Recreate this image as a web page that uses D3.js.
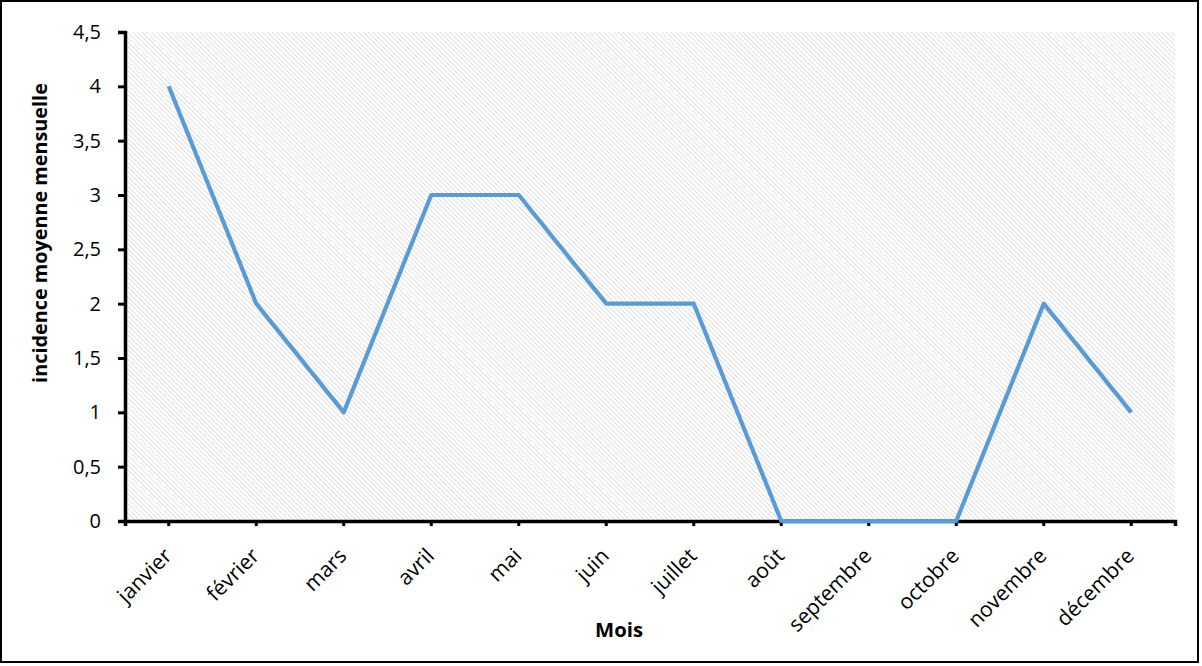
<!DOCTYPE html>
<html><head><meta charset="utf-8">
<script src="https://cdn.jsdelivr.net/npm/d3@7"></script>
<style>
html,body{margin:0;padding:0;background:#fff;}
svg{display:block;font-family:"Open Sans",sans-serif;}
</style></head>
<body>
<svg id="chart" width="1202" height="666"></svg>
<script>
const months = ["janvier","février","mars","avril","mai","juin","juillet","août","septembre","octobre","novembre","décembre"];
const incidence = [4,2,1,3,3,2,2,0,0,0,2,1];
const yTicks = [0,0.5,1,1.5,2,2.5,3,3.5,4,4.5];
const yTitle = "incidence moyenne mensuelle";
const xTitle = "Mois";

const FONT = "'Open Sans',sans-serif";
const svg = d3.select("#chart");
const m = {left:125, right:1175, top:32, bottom:521};

// fit a font size so that a text reaches a target width
function fitSize(str, target, weight) {
  const t = svg.append("text").attr("font-family",FONT).attr("font-size",20)
    .attr("font-weight",weight||"normal").text(str);
  const w = t.node().getComputedTextLength();
  t.remove();
  return 20*target/w;
}

const defs = svg.append("defs");
const P = 3.4;
const pat = defs.append("pattern").attr("id","hatch").attr("patternUnits","userSpaceOnUse")
  .attr("width",P).attr("height",P).attr("patternTransform","rotate(45)");
pat.append("rect").attr("width",P).attr("height",P).attr("fill","#fff");
pat.append("line").attr("x1",0).attr("y1",0).attr("x2",P).attr("y2",0)
  .attr("stroke","#cdcdcd").attr("stroke-width",1.2);

// outer border
svg.append("rect").attr("x",1).attr("y",1).attr("width",1197).attr("height",661)
  .attr("fill","#fff").attr("stroke","#000").attr("stroke-width",2);

const x = d3.scaleBand().domain(months).range([m.left,m.right]);
const y = d3.scaleLinear().domain([0,4.5]).range([m.bottom,m.top]);

svg.append("rect").attr("x",m.left).attr("y",m.top).attr("width",m.right-m.left).attr("height",m.bottom-m.top)
  .attr("fill","url(#hatch)");

const tickFs = fitSize("4,5", 28);
const labFs = fitSize("septembre", 107);
const yTitleFs = fitSize(yTitle, 300, "bold");
const xTitleFs = fitSize(xTitle, 48, "bold");

// y axis
const yAxis = d3.axisLeft(y).tickValues(yTicks).tickSize(7).tickPadding(17)
  .tickFormat(d => String(d).replace(".",","));
const gy = svg.append("g").attr("transform",`translate(${m.left},0)`).call(yAxis);
gy.select(".domain").attr("stroke","#000").attr("stroke-width",3.5);
gy.selectAll(".tick line").attr("stroke","#000").attr("stroke-width",3);
gy.selectAll(".tick text").attr("font-size",tickFs).attr("fill","#000").attr("font-family",FONT);

// x axis
const xAxis = d3.axisBottom(x).tickSize(5).tickSizeOuter(5).tickPadding(8);
const gx = svg.append("g").attr("transform",`translate(0,${m.bottom})`).call(xAxis);
gx.select(".domain").attr("stroke","#000").attr("stroke-width",3.5);
gx.selectAll(".tick line").attr("stroke","#000").attr("stroke-width",3);
gx.selectAll(".tick text").attr("font-size",labFs).attr("fill","#000")
  .attr("font-family",FONT)
  .attr("text-anchor","end").attr("dy","0.35em")
  .attr("transform","translate(-1,31) rotate(-45)").attr("y",0).attr("x",0);

// line
const line = d3.line().x((d,i)=>x(months[i])+x.bandwidth()/2).y(d=>y(d));
svg.append("path").datum(incidence).attr("d",line).attr("fill","none")
  .attr("stroke","#5b9bd5").attr("stroke-width",4.2).attr("stroke-linejoin","round");

// titles
svg.append("text").attr("transform","translate(47,233) rotate(-90)").attr("text-anchor","middle")
  .attr("font-family",FONT).attr("font-weight","bold").attr("font-size",yTitleFs).attr("fill","#000").text(yTitle);
svg.append("text").attr("x",619).attr("y",637).attr("text-anchor","middle")
  .attr("font-family",FONT).attr("font-weight","bold").attr("font-size",xTitleFs).attr("fill","#000").text(xTitle);
</script>
</body></html>
